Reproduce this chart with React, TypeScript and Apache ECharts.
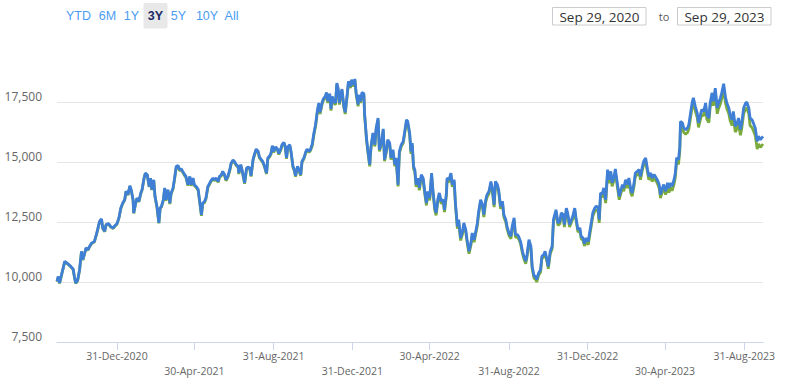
import { useEffect, useRef } from 'react';
import * as echarts from 'echarts';

const START = Date.UTC(2020, 8, 29);
const DAY = 86400000;
const SPAN_DAYS = 1095;

// days since Sep 29, 2020
const dayOffsets = [
  0,2,4,7,12,17,22,25,27,29,
  32,35,38,40,43,45,48,51,54,58,
  61,63,66,69,71,74,76,80,83,87,
  90,93,96,99,102,105,107,110,113,115,
  118,119,122,124,127,130,132,135,137,140,
  143,145,147,150,152,155,158,160,162,165,
  167,169,172,175,177,180,182,185,188,190,
  193,195,198,200,203,206,208,211,213,216,
  219,221,224,226,229,231,234,237,239,242,
  244,247,250,252,255,257,260,262,265,268,
  270,273,275,278,281,282,285,287,291,294,
  296,299,301,304,306,309,312,314,317,319,
  322,325,327,330,332,334,336,339,342,344,
  347,349,352,354,356,358,361,363,366,368,
  370,373,375,378,380,383,386,388,391,393,
  396,398,401,404,406,408,411,413,416,418,
  420,423,425,427,429,432,434,436,438,440,
  442,445,447,450,452,455,457,460,462,464,
  467,468,471,473,476,477,480,482,485,487,
  490,493,495,498,500,503,506,508,511,513,
  516,518,521,524,526,529,531,534,537,539,
  542,544,547,549,551,553,555,557,560,562,
  565,568,570,573,575,578,581,583,586,588,
  591,593,596,599,601,604,605,608,611,613,
  616,618,621,623,626,629,631,634,636,639,
  642,644,647,649,652,654,657,660,662,665,
  667,670,673,675,678,680,683,685,688,691,
  693,696,698,701,704,706,709,711,714,716,
  719,722,724,727,729,732,735,737,740,742,
  744,747,750,752,755,757,760,762,765,768,
  770,772,774,777,780,782,785,787,790,792,
  795,798,800,803,805,808,811,813,816,818,
  821,824,826,829,831,834,836,839,841,843,
  846,848,851,854,856,859,861,864,866,869,
  872,874,877,879,882,885,887,890,892,895,
  897,900,903,905,908,910,913,916,918,921,
  923,926,928,931,934,936,939,941,944,947,
  949,952,954,957,959,961,964,966,967,970,
  972,975,978,980,983,985,987,990,993,995,
  998,1000,1003,1006,1008,1011,1013,1016,1018,1021,
  1024,1026,1029,1031,1034,1037,1039,1042,1044,1047,
  1049,1052,1055,1057,1060,1062,1065,1068,1070,1073,
  1075,1078,1080,1083,1086,1088,1091,1093,1095,
];

const blueValues = [
  10030,10230,9960,10300,10860,10760,10630,10540,10230,9960,
  10070,10510,11280,10930,11210,11420,11350,11510,11630,11690,
  11970,12180,12530,12630,12250,12110,12390,12430,12320,12250,
  12350,12430,12670,13080,13290,13430,13780,13640,14010,13850,
  13430,12880,13290,13500,13360,13710,13850,14330,14540,14470,
  13980,14330,13850,14260,13570,13150,12460,13080,13150,13430,
  13920,13430,13850,13290,13710,13920,14260,14820,14850,14680,
  14710,14610,14470,14400,14050,14400,14050,14330,14050,13980,
  13850,13430,12800,13290,13360,13500,13980,14130,14230,14330,
  14260,14330,14190,14400,14470,14610,14470,14260,14400,14680,
  14950,15080,15030,14890,14820,14540,14890,14680,14130,14750,
  14790,14750,14430,15100,15300,15540,15440,15210,15100,15030,
  14820,14540,15170,15260,15380,15680,15440,15630,15540,15350,
  15540,15720,15820,15650,15170,15630,15720,15440,14820,14680,
  14430,14820,14710,14470,15030,15170,15440,15540,15440,15510,
  15760,16140,16550,17180,17460,17070,17460,17630,17730,17900,
  17530,17850,17210,17730,17530,17460,18290,18080,17460,17800,
  18040,17320,17070,17800,18360,18150,18430,18220,18460,17880,
  17390,17800,17530,17900,17850,17040,16000,15510,14890,15650,
  16210,15720,16420,16830,15510,15790,16380,15100,15510,15930,
  15790,15170,15510,14890,15170,14050,15440,15720,15860,16210,
  16760,16690,16210,15440,15790,14820,14680,14060,14330,13920,
  14470,14330,13850,13290,13780,13500,14540,13850,13080,12880,
  13500,13710,13360,13430,13010,13710,14330,14260,14540,14060,
  14260,13290,12320,12600,11830,12110,12460,12180,11760,11280,
  11630,12040,11760,12040,12460,12940,13430,13220,12810,13430,
  13640,13780,14190,13920,13220,14190,14060,13850,13150,13360,
  12810,12600,12320,12040,11900,12320,12670,11970,11970,11900,
  11690,11280,11070,10860,11140,11760,11490,10650,10240,10240,
  10100,10380,10510,11070,11140,11280,10930,10650,11280,11490,
  12600,12810,13010,12460,12530,12880,12810,12390,13080,12880,
  12390,12600,12740,13080,12670,12180,12250,11900,11830,11600,
  11830,11690,12040,12530,12880,13080,13150,13130,12600,13710,
  13680,13920,13430,14680,14260,14610,14130,14400,14710,14130,
  13570,13780,14060,13920,14260,14060,14330,13850,13710,14130,
  14540,14610,14680,14400,14820,15030,15170,14680,14400,14540,
  14330,14470,14400,14260,14060,13640,13920,14060,13780,14130,
  13920,14130,13990,14260,14540,15170,15100,15650,16690,16630,
  16420,16350,16420,16560,17110,17460,17670,17320,17040,16630,
  16970,17180,17110,17460,16970,16830,17460,17880,17530,18080,
  17250,17460,17670,17880,18260,17670,17460,17250,16970,16760,
  17110,16490,16630,16830,16350,16630,17250,17460,17490,17250,
  16830,16760,16630,16420,15860,16070,15930,16000,16070,
];

const greenValues = [
  10010,10210,9940,10280,10840,10740,10610,10520,10210,9940,
  10050,10490,11260,10910,11190,11400,11330,11490,11610,11670,
  11950,12160,12510,12610,12230,12090,12370,12410,12300,12230,
  12330,12410,12650,13060,13270,13410,13760,13620,13990,13830,
  13410,12860,13270,13480,13340,13690,13830,14310,14520,14450,
  13960,14310,13830,14240,13550,13130,12440,13060,13130,13410,
  13880,13390,13810,13250,13670,13880,14220,14780,14810,14640,
  14670,14570,14430,14360,14010,14360,14010,14290,14010,13940,
  13810,13390,12760,13250,13320,13460,13940,14090,14190,14290,
  14220,14290,14150,14360,14430,14570,14430,14220,14360,14640,
  14910,15040,14990,14850,14780,14500,14850,14640,14090,14710,
  14750,14710,14390,15060,15260,15500,15400,15170,15060,14990,
  14780,14500,15130,15220,15340,15640,15400,15590,15500,15310,
  15500,15680,15780,15610,15130,15590,15680,15400,14780,14640,
  14390,14780,14670,14430,14990,15130,15400,15500,15400,15470,
  15690,16070,16480,17110,17390,17000,17390,17560,17660,17830,
  17460,17780,17140,17660,17460,17390,18220,18010,17390,17730,
  17970,17250,17000,17730,18290,18080,18360,18150,18390,17810,
  17320,17730,17460,17830,17780,16970,15930,15440,14820,15580,
  16140,15650,16350,16760,15440,15720,16310,15030,15440,15860,
  15720,15100,15440,14820,15100,13980,15370,15650,15790,16140,
  16660,16590,16110,15340,15690,14720,14580,13960,14230,13820,
  14370,14230,13750,13190,13680,13400,14440,13750,12980,12780,
  13400,13610,13260,13330,12910,13610,14230,14160,14440,13960,
  14160,13190,12220,12500,11730,12010,12360,12080,11660,11180,
  11530,11940,11660,11940,12360,12840,13330,13120,12710,13330,
  13540,13680,14090,13820,13120,14090,13960,13750,13050,13260,
  12710,12500,12220,11940,11800,12220,12570,11870,11870,11800,
  11590,11180,10970,10760,11040,11660,11390,10550,10140,10140,
  10000,10280,10410,10970,11040,11180,10830,10550,11180,11390,
  12500,12710,12910,12360,12430,12780,12710,12290,12980,12780,
  12290,12500,12640,12980,12570,12080,12150,11800,11730,11500,
  11690,11550,11900,12390,12740,12940,13010,12990,12460,13570,
  13540,13780,13290,14540,14120,14470,13990,14260,14570,13990,
  13430,13640,13920,13780,14120,13920,14190,13710,13570,13990,
  14400,14470,14540,14260,14680,14890,15030,14540,14260,14400,
  14190,14330,14260,14120,13920,13500,13780,13920,13640,13990,
  13730,13940,13800,14070,14350,14980,14910,15460,16500,16440,
  16230,16160,16230,16370,16920,17270,17480,17130,16850,16440,
  16780,16990,16920,17270,16780,16640,17270,17690,17340,17890,
  17010,17220,17430,17640,18020,17430,17220,17010,16730,16520,
  16870,16250,16390,16590,16110,16390,17010,17220,17250,17010,
  16510,16440,16310,16100,15540,15750,15610,15680,15750,
];

const tickDates = [
  '2020-12-31', '2021-04-30', '2021-08-31', '2021-12-31', '2022-04-30',
  '2022-08-31', '2022-12-31', '2023-04-30', '2023-08-31',
];
const yMin = 7500;
const yMax = 20000;
const yStep = 2500;
const rangeButtons = ['YTD', '6M', '1Y', '3Y', '5Y', '10Y', 'All'];
const selectedRange = '3Y';
const fromDate = 'Sep 29, 2020';
const toDate = 'Sep 29, 2023';
const MONTHS = ['Jan','Feb','Mar','Apr','May','Jun','Jul','Aug','Sep','Oct','Nov','Dec'];

export default function App() {
  const ref = useRef<HTMLDivElement>(null);
  useEffect(() => {
    if (!ref.current) return;
    const chart = echarts.init(ref.current, undefined, { renderer: 'svg' });
    // tick positions as day offsets from START
    const tickDays = tickDates.map((s) => Math.round((Date.parse(s + 'T00:00:00Z') - START) / DAY));
    const toPairs = (vals: number[]) => dayOffsets.map((d, i) => [d, vals[i]]);
    const fmtDate = (v: number) => {
      const d = new Date(START + v * DAY);
      const s = `${d.getUTCDate()}-${MONTHS[d.getUTCMonth()]}-${d.getUTCFullYear()}`;
      const idx = tickDays.indexOf(Math.round(v));
      return idx % 2 === 1 ? '\n' + s : s;
    };
    const btnX = [78.5, 107.5, 131.5, 155.5, 178.5, 207, 231.5];
    const graphics: any[] = [];
    rangeButtons.forEach((b, i) => {
      const sel = b === selectedRange;
      if (sel) {
        graphics.push({
          type: 'rect',
          shape: { x: btnX[i] - 12, y: 3, width: 24, height: 25.5, r: 2 },
          style: { fill: '#e8e8e8' },
        });
      }
      graphics.push({
        type: 'text',
        x: btnX[i],
        y: 15.5,
        style: {
          text: b,
          fill: sel ? '#1c2a66' : '#4a9cf2',
          font: `${sel ? 'bold ' : ''}12.5px "Liberation Sans", Arial, sans-serif`,
          align: 'center',
          verticalAlign: 'middle',
        },
      });
    });
    const boxes = [
      { x: 552.5, text: fromDate },
      { x: 677.5, text: toDate },
    ];
    boxes.forEach((bx) => {
      graphics.push({
        type: 'rect',
        shape: { x: bx.x, y: 7.5, width: 93.5, height: 17.5 },
        style: { fill: '#fff', stroke: '#cccccc', lineWidth: 1 },
      });
      graphics.push({
        type: 'text',
        x: bx.x + 47,
        y: 16.5,
        style: {
          text: bx.text,
          fill: '#333333',
          font: '13.5px "Open Sans", sans-serif',
          align: 'center',
          verticalAlign: 'middle',
        },
      });
    });
    graphics.push({
      type: 'text',
      x: 664,
      y: 16.5,
      style: { text: 'to', fill: '#555555', font: '11px "Open Sans", sans-serif', align: 'center', verticalAlign: 'middle' },
    });

    chart.setOption({
      animation: false,
      backgroundColor: '#ffffff',
      grid: { left: 57, right: 35, top: 42, bottom: 45 },
      graphic: graphics,
      xAxis: {
        type: 'value',
        min: 0,
        max: SPAN_DAYS,
        axisLine: { show: true, lineStyle: { color: '#ccd6eb', width: 1 } },
        axisTick: { show: true, length: 8, customValues: tickDays, lineStyle: { color: '#ccd6eb' } },
        axisLabel: {
          customValues: tickDays,
          formatter: fmtDate,
          color: '#666666',
          fontFamily: '"Open Sans", sans-serif',
          fontSize: 10.5,
          lineHeight: 15,
          margin: 6,
          hideOverlap: false,
        },
        splitLine: { show: false },
      },
      yAxis: {
        type: 'value',
        min: yMin,
        max: yMax,
        interval: yStep,
        axisLine: { show: false },
        axisTick: { show: false },
        axisLabel: {
          formatter: (v: number) => v.toLocaleString('en-US'),
          color: '#666666',
          fontFamily: '"Open Sans", sans-serif',
          fontSize: 12,
          margin: 15,
          verticalAlign: 'bottom',
          lineHeight: 12,
          showMaxLabel: false,
        },
        splitLine: { show: true, showMaxLine: false, lineStyle: { color: '#e6e6e6', width: 1 } },
      },
      series: [
        {
          name: 'Benchmark',
          type: 'line',
          data: toPairs(greenValues),
          showSymbol: false,
          symbol: 'none',
          lineStyle: { color: '#7aab3c', width: 2.8 },
          itemStyle: { color: '#7aab3c' },
        },
        {
          name: 'Fund',
          type: 'line',
          data: toPairs(blueValues),
          showSymbol: false,
          symbol: 'none',
          lineStyle: { color: '#3f7fd5', width: 2.8 },
          itemStyle: { color: '#3f7fd5' },
        },
      ],
    });
    return () => chart.dispose();
  }, []);
  return <div ref={ref} style={{ position: 'absolute', left: 0, top: 0, width: 798, height: 387 }} />;
}
